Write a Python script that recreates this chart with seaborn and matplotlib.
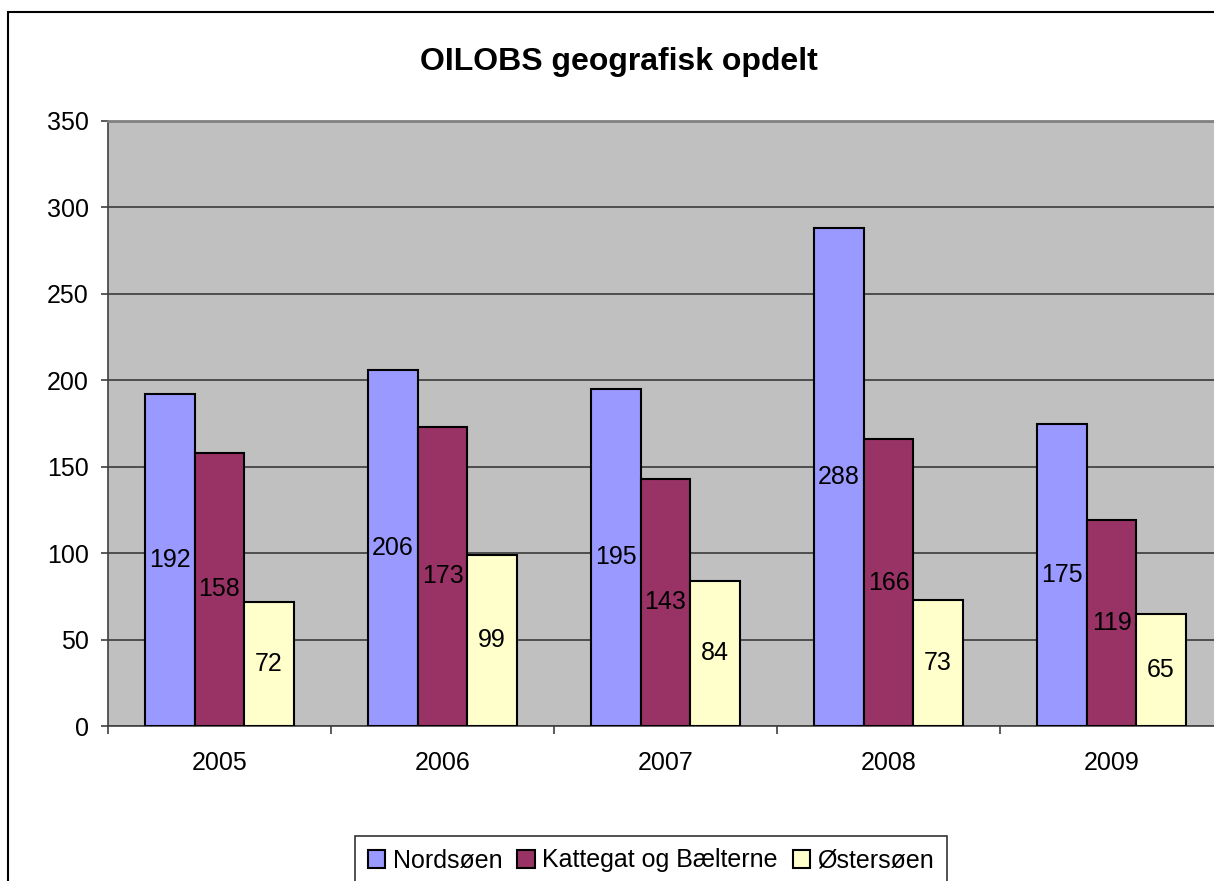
import pandas as pd
import numpy as np
import matplotlib.pyplot as plt
import seaborn as sns
from matplotlib.patches import Rectangle

# data
years = ['2005', '2006', '2007', '2008', '2009']
nordsoen = [192, 206, 195, 288, 175]
kattegat = [158, 173, 143, 166, 119]
ostersoen = [72, 99, 84, 73, 65]
regions = ['Nordsøen', 'Kattegat og Bælterne', 'Østersøen']
colors = ['#9999FF', '#993366', '#FFFFCC']

df = pd.DataFrame({
    'År': years * 3,
    'Område': [r for r in regions for _ in years],
    'Antal': nordsoen + kattegat + ostersoen,
})

sns.set_style('white')
plt.rcParams['font.family'] = ['Liberation Sans', 'DejaVu Sans']
plt.rcParams['text.color'] = 'black'
plt.rcParams['xtick.color'] = 'black'
plt.rcParams['ytick.color'] = 'black'

fs = 18

fig = plt.figure(figsize=(12.14, 8.81), dpi=100)
# plot area runs off the right edge like the original screenshot
ax = fig.add_axes([108 / 1214, 1 - 726 / 881, 1115 / 1214, 605 / 881])
ax.set_facecolor('#C0C0C0')

sns.barplot(data=df, x='År', y='Antal', hue='Område', palette=colors,
            width=0.666, gap=0, edgecolor='black', linewidth=1.5,
            saturation=1, ax=ax, zorder=3)

# value labels in the middle of each bar
for cont in ax.containers:
    labels = [f'{int(v)}' for v in cont.datavalues]
    ax.bar_label(cont, labels=labels, label_type='center', fontsize=fs,
                 color='black', zorder=4)

ax.set_ylim(0, 350)
ax.set_xlim(-0.5, 4.5)
ax.set_yticks(range(0, 351, 50))
ax.yaxis.grid(True, color='#3a3a3a', linewidth=1.2, zorder=0)
ax.set_axisbelow(True)
ax.set_xlabel('')
ax.set_ylabel('')

ax.set_xticks(np.arange(-0.5, 5, 1), minor=True)
ax.tick_params(axis='x', which='major', length=0, pad=18, labelsize=fs,
               labelcolor='black')
ax.tick_params(axis='x', which='minor', length=6, width=1.2, color='#404040',
               direction='out', bottom=True)
ax.tick_params(axis='y', length=5, width=1.2, color='#404040', direction='out',
               left=True, pad=9, labelsize=fs, labelcolor='black')

for s in ['left', 'bottom']:
    ax.spines[s].set_color('#404040')
    ax.spines[s].set_linewidth(1.2)
ax.spines['top'].set_color('#808080')
ax.spines['top'].set_linewidth(2)
ax.spines['right'].set_visible(False)

leg = ax.legend(loc='upper center', bbox_to_anchor=(651 / 1214, 45 / 881),
                bbox_transform=fig.transFigure, ncol=3, fontsize=fs,
                frameon=True, fancybox=False, handlelength=0.7, handleheight=0.7,
                handletextpad=0.3, columnspacing=0.6, borderpad=0.5,
                borderaxespad=0)
leg.get_frame().set_edgecolor('black')
leg.get_frame().set_linewidth(1.2)
for t in leg.get_texts():
    t.set_color('black')

fig.text(619 / 1214, 1 - 62 / 881, 'OILOBS geografisk opdelt',
         ha='center', va='center', fontsize=23, fontweight='bold', color='black')

# outer chart border
fig.patches.append(Rectangle((8 / 1214, -0.1), 1.2, 1 - 12 / 881 + 0.1,
                             transform=fig.transFigure, fill=False,
                             edgecolor='black', linewidth=1.5))

fig.savefig('out.png', dpi=100)
